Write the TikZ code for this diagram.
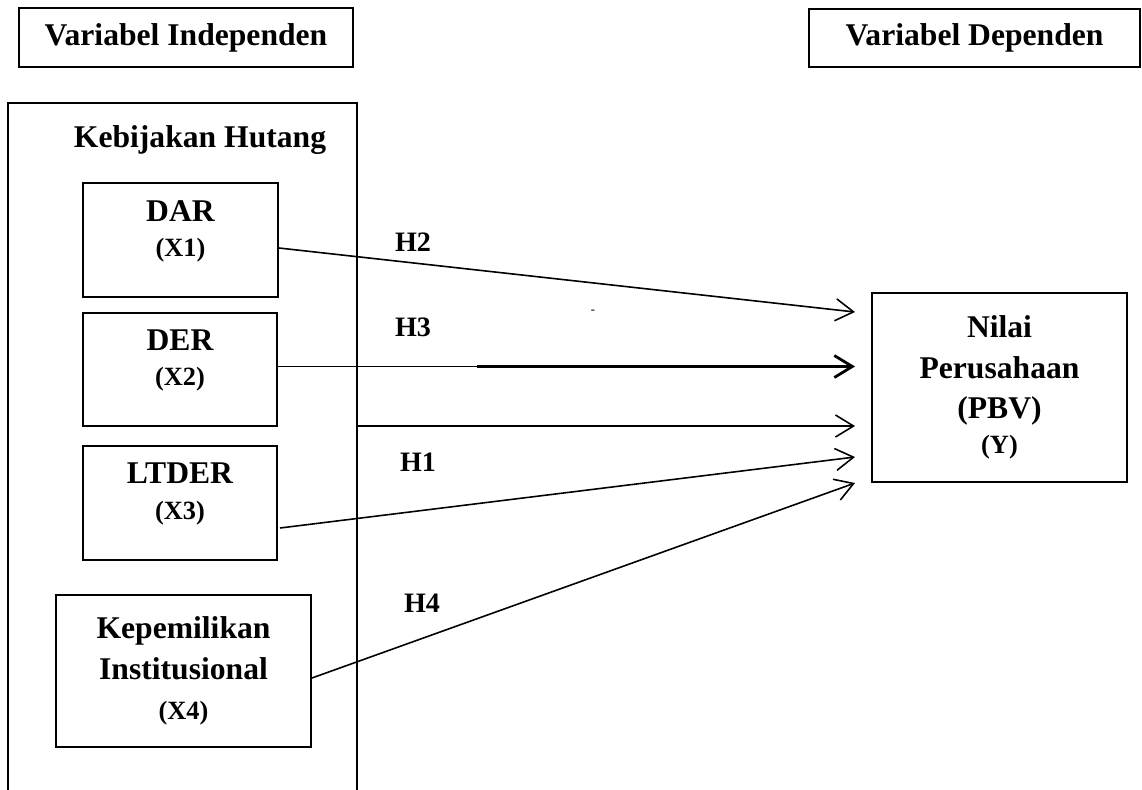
\documentclass[tikz,border=0pt]{standalone}
\usepackage{fontspec}
\setmainfont{Liberation Serif}
\usetikzlibrary{arrows.meta,positioning,calc}
\newcommand{\bigbold}{\fontsize{18}{23}\selectfont\bfseries}
\newcommand{\smallbold}{\fontsize{15}{18}\selectfont\bfseries}
\tikzset{
  varbox/.style={draw=black,line width=1.1pt,align=center,inner sep=0pt},
  headbox/.style={varbox,minimum height=1.17cm,font=\bigbold},
  bigtxt/.style={font=\bigbold,align=center,inner sep=0pt},
  hyp/.style={font=\fontsize{16}{19}\selectfont\bfseries,inner sep=0pt},
  link/.style={-{Straight Barb[length=3.6mm,width=4.4mm]},line width=0.9pt},
  thicklink/.style={link,line width=1.6pt}
}

\begin{document}
\begin{tikzpicture}[x=0.02cm,y=-0.02cm]
  \useasboundingbox (0,0) rectangle (1142,789);

  % headers
  \node[headbox,minimum width=6.68cm] (indep) at (186,37.5) {Variabel Independen};
  \node[headbox,minimum width=6.62cm] (dep) at (974.5,38) {Variabel Dependen};

  % independent group
  \node[varbox,minimum width=6.98cm,minimum height=14.5cm,anchor=north] (hutang) at (182.5,102) {};
  \node[bigtxt] (hutangtitle) at (200,140) {Kebijakan Hutang};

  \node[varbox,minimum width=3.9cm,minimum height=2.28cm] (dar) at (180.5,240) {};
  \node[bigtxt] (dartext) at ([yshift=0.18cm]dar.center) {DAR\\[-3pt]{\smallbold (X1)}};

  \node[varbox,minimum width=3.88cm,minimum height=2.26cm] (der) at (180,369.5) {};
  \node[bigtxt] (dertext) at ([yshift=0.18cm]der.center) {DER\\[-3pt]{\smallbold (X2)}};

  \node[varbox,minimum width=3.88cm,minimum height=2.28cm] (ltder) at (180,503) {};
  \node[bigtxt] (ltdertext) at ([yshift=0.18cm]ltder.center) {LTDER\\[-3pt]{\smallbold (X3)}};

  \node[varbox,minimum width=5.1cm,minimum height=3.04cm,font=\bigbold] (kep) at (183.5,671)
    {Kepemilikan\\Institusional\\{\smallbold (X4)}};

  % dependent
  \node[varbox,minimum width=5.1cm,minimum height=3.78cm,font=\bigbold] (pbv) at (999.5,387.5)
    {Nilai\\Perusahaan\\(PBV)\\[-3pt]{\smallbold (Y)}};

  % arrow tips
  \coordinate (tipA) at (855,312);
  \coordinate (tipB) at (855,366.5);
  \coordinate (tipC) at (855,426);
  \coordinate (tipD) at (855,457);
  \coordinate (tipE) at (855,483);
  \coordinate (h3break) at (477,366.5);

  \draw[link] ($(dar.east)+(0,8)$) -- (tipA);
  \draw[line width=0.9pt] (der.east |- h3break) -- (h3break);
  \draw[thicklink] (h3break) -- (tipB);
  \draw[link] (hutang.east |- tipC) -- (tipC);
  \draw[link] ($(ltder.east)+(2,25)$) -- (tipD);
  \draw[link] ($(kep.east)+(0,7)$) -- (tipE);

  \node[hyp] (h2) at (413,242) {H2};
  \node[hyp] (h3) at (413,327) {H3};
  \node[hyp] (h1) at (418,462) {H1};
  \node[hyp] (h4) at (422,603) {H4};
  \node[font=\scriptsize\bfseries,inner sep=0pt] (dash) at (593,312) {-};
\end{tikzpicture}
\end{document}
